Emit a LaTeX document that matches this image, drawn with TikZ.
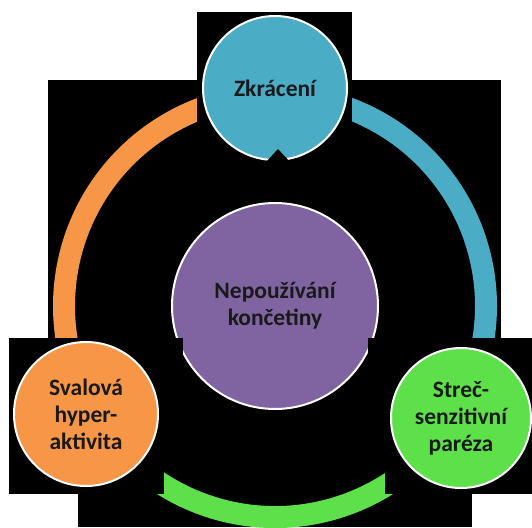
\documentclass[tikz,border=0pt]{standalone}
\usepackage{fontspec}
\setmainfont{Carlito}
\definecolor{tyrkys}{HTML}{4BACC6}
\definecolor{oranz}{HTML}{F79646}
\definecolor{zelena}{HTML}{5EE04A}
\definecolor{fialova}{HTML}{8064A2}
\begin{document}
\begin{tikzpicture}[x=1pt,y=-1pt,
  kruh/.style={circle,draw=white,line width=2pt,minimum size=144pt,inner sep=0pt,
    align=center,text=black!90,font=\fontsize{23.5}{27}\selectfont\bfseries},
  oblouk/.style={line width=22pt}]
\fill[white] (0,0) rectangle (532,527);
\useasboundingbox (0,0) rectangle (532,527);
% cerne pozadi
\foreach \a/\b/\c/\d in {197/12/352/167, 48/80/501/338, 9/338/532/494, 78/494/472/527}
  \fill[black] (\a,\b) rectangle (\c,\d);
\coordinate (stred) at (275,306);
% kruhove sipky
\draw[oblouk,oranz] (stred) ++(160:211) arc[start angle=160,end angle=260,radius=211];
\draw[oblouk,tyrkys] (stred) ++(280:211) arc[start angle=280,end angle=380,radius=211];
\draw[oblouk,zelena] (stred) ++(20:211) arc[start angle=20,end angle=160,radius=211];
\node[kruh,fill=fialova,minimum size=206pt] (nepouzivani) at (stred) {Nepoužívání\\končetiny};
% zakryti koncu
\foreach \a/\b/\c/\d in {197/12/352/167, 9/338/164/494, 164/338/183/420, 385/338/532/494, 368/338/385/420}
  \fill[black] (\a,\b) rectangle (\c,\d);
\node[kruh,fill=tyrkys] (zkraceni) at (275,88) {Zkrácení};
\node[kruh,fill=oranz] (svalova) at (86,414) {Svalová\\hyper-\\aktivita};
\node[kruh,fill=zelena,minimum size=140pt] (strec) at (461,418) {Streč-\\senzitivní\\paréza};
\fill[black] (266,162) -- (278,149) -- (290,162) -- cycle;
\end{tikzpicture}
\end{document}
